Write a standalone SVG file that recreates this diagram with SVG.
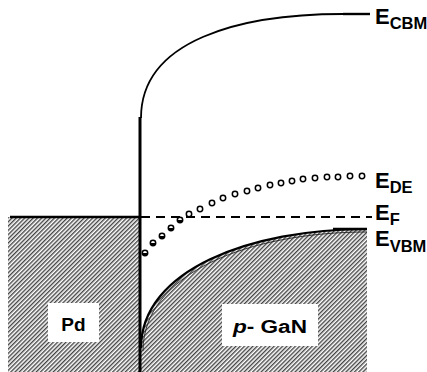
<svg xmlns="http://www.w3.org/2000/svg" width="427" height="372" viewBox="0 0 427 372">
<defs>
<pattern id="hatch" width="3" height="3" patternUnits="userSpaceOnUse" patternTransform="rotate(45)">
<rect x="0" y="0" width="1.4" height="3" fill="#444"/>
</pattern>
<style>
.lbl{font-family:"Liberation Sans",Arial,sans-serif;fill:#000;font-weight:bold}
.E{font-size:22px}
.sub{font-size:16.5px}
.box{fill:#fff}
.ds{fill:#fff;stroke:#000;stroke-width:1.5}
.dh{fill:#000}
</style>
</defs>
<rect width="427" height="372" fill="#fff"/>
<g id="pd-metal">
<rect x="8" y="217" width="132" height="155" fill="url(#hatch)"/>
<line x1="10" y1="217" x2="140" y2="217" stroke="#000" stroke-width="2.5"/>
<rect class="box" x="48" y="303" width="51" height="39"/>
<text class="lbl" x="73.5" y="331" font-size="19" text-anchor="middle">Pd</text>
</g>
<g id="p-gan">
<path d="M141,348 C141,270 250,229 367,229 L367,372 L141,372 Z" fill="url(#hatch)"/>
<rect class="box" x="222" y="304" width="96" height="42"/>
<text class="lbl" x="233" y="333" font-size="18" textLength="74" lengthAdjust="spacingAndGlyphs"><tspan font-style="italic">p</tspan>- GaN</text>
</g>
<g id="connectors" fill="none" stroke="#000">
<line x1="140" y1="117" x2="140" y2="372" stroke-width="3"/>
<path d="M141,118 C141,40 240,14 343,14" stroke-width="1.8"/>
<line x1="343" y1="14" x2="370" y2="14" stroke-width="2.4"/>
<line x1="141" y1="217" x2="372" y2="217" stroke-width="2" stroke-dasharray="9 6"/>
<path d="M141,348 C141,270 250,229 367,229" stroke-width="2.2"/>
<path d="M143,351 C143,273 250,232 367,232" stroke-width="0.9" stroke="#222"/>
<line x1="333" y1="229" x2="367" y2="229" stroke-width="2.4"/>
</g>
<g id="defect-states">
<g id="filled-states">
<circle class="ds" cx="145" cy="253" r="2.7"/><path class="dh" d="M142.3,253 A2.7,2.7 0 0 0 147.7,253 Z"/>
<circle class="ds" cx="153" cy="243" r="2.7"/><path class="dh" d="M150.3,243 A2.7,2.7 0 0 0 155.7,243 Z"/>
<circle class="ds" cx="162" cy="236" r="2.7"/><path class="dh" d="M159.3,236 A2.7,2.7 0 0 0 164.7,236 Z"/>
<circle class="ds" cx="171" cy="228" r="2.7"/><path class="dh" d="M168.3,228 A2.7,2.7 0 0 0 173.7,228 Z"/>
<circle class="ds" cx="180" cy="220" r="2.7"/><path class="dh" d="M177.3,220 A2.7,2.7 0 0 0 182.7,220 Z"/>
</g>
<g id="empty-states">
<circle class="ds" cx="189" cy="214" r="2.7"/>
<circle class="ds" cx="200" cy="209" r="2.7"/>
<circle class="ds" cx="212" cy="203" r="2.7"/>
<circle class="ds" cx="223" cy="198" r="2.7"/>
<circle class="ds" cx="235" cy="194" r="2.7"/>
<circle class="ds" cx="247" cy="191" r="2.7"/>
<circle class="ds" cx="258" cy="188" r="2.7"/>
<circle class="ds" cx="270" cy="185" r="2.7"/>
<circle class="ds" cx="281" cy="183" r="2.7"/>
<circle class="ds" cx="292" cy="181" r="2.7"/>
<circle class="ds" cx="303" cy="179" r="2.7"/>
<circle class="ds" cx="315" cy="178" r="2.7"/>
<circle class="ds" cx="327" cy="177" r="2.7"/>
<circle class="ds" cx="338" cy="177" r="2.7"/>
<circle class="ds" cx="350" cy="176" r="2.7"/>
<circle class="ds" cx="362" cy="176" r="2.7"/>
</g>
</g>
<g id="labels">
<text class="lbl E" x="375" y="24">E<tspan class="sub" dy="5">CBM</tspan></text>
<text class="lbl E" x="375" y="188">E<tspan class="sub" dy="5">DE</tspan></text>
<text class="lbl E" x="375" y="220">E<tspan class="sub" dy="5">F</tspan></text>
<text class="lbl E" x="375" y="246">E<tspan class="sub" dy="6">VBM</tspan></text>
</g>
</svg>
